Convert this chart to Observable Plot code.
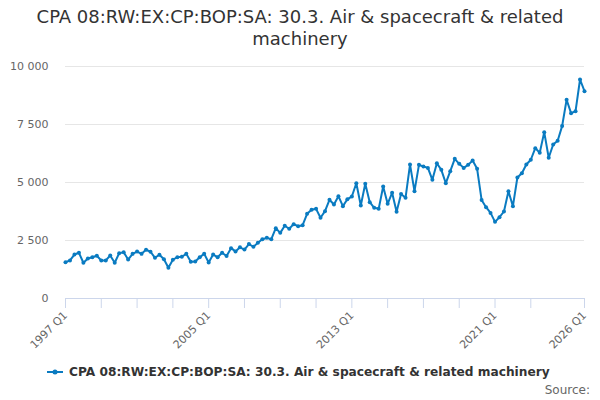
<!DOCTYPE html>
<html><head><meta charset="utf-8">
<script src="https://cdn.jsdelivr.net/npm/d3@7"></script>
<script src="https://cdn.jsdelivr.net/npm/@observablehq/plot@0.6"></script>
<style>
body{margin:0;width:600px;height:400px;position:relative;font-family:"DejaVu Sans",sans-serif;background:#fff;overflow:hidden}
#title{position:absolute;top:6px;left:0;width:600px;text-align:center;font-size:18px;line-height:22px;color:#333}
#chart{position:absolute;top:56px;left:0}
#legend{position:absolute;top:365px;left:47px;font-size:12.2px;font-weight:bold;color:#333;display:flex;align-items:center;white-space:nowrap}
#legend svg{margin-right:6px}
#source{position:absolute;top:383px;right:10px;font-size:12px;color:#666}
</style></head>
<body>
<div id="title">CPA 08:RW:EX:CP:BOP:SA: 30.3. Air &amp; spacecraft &amp; related<br>machinery</div>
<div id="chart"></div>
<div id="legend"><svg width="16" height="10"><line x1="0" y1="5" x2="16" y2="5" stroke="#0a7bc1" stroke-width="2"/><circle cx="8" cy="5" r="2.5" fill="#0a7bc1"/></svg><span>CPA 08:RW:EX:CP:BOP:SA: 30.3. Air &amp; spacecraft &amp; related machinery</span></div>
<div id="source">Source:</div>
<script>
const startYear = 1997;
const values = [
1565,1640,1895,1970, 1540,1725,1780,1840, 1640,1640,1855,1540, 1955,1995,1680,1925,
2025,1925,2100,2015, 1755,1885,1695,1325, 1670,1780,1800,1925, 1580,1595,1780,1925,
1550,1895,1780,1970, 1830,2170,2030,2205, 2110,2345,2230,2400, 2555,2615,2555,3030,
2830,3135,3005,3205, 3115,3160,3650,3825, 3865,3480,3765,4255, 4050,4410,3980,4280,
4395,4970,4010,4945, 4150,3910,3865,4830, 4080,4555,3735,4500, 4340,5775,4625,5760,
5690,5630,5115,5830, 5545,4970,5490,6020, 5805,5630,5760,5950, 5590,4250,3935,3690,
3305,3505,3750,4625, 3980,5215,5400,5775, 5980,6480,6280,7170, 6065,6640,6800,7430,
8565,7990,8075,9440, 8935
];
const categories = values.map((_, i) => `${startYear + Math.floor(i / 4)} Q${(i % 4) + 1}`);
const tickLabels = ["1997 Q1", "2005 Q1", "2013 Q1", "2021 Q1", "2026 Q1"];
const tickMarks = ["1997 Q1","1999 Q1","2001 Q1","2003 Q1","2005 Q1","2007 Q1","2009 Q1","2011 Q1","2013 Q1","2015 Q1","2017 Q1","2019 Q1","2021 Q1","2023 Q1","2026 Q1"];
const yTicks = [0, 2500, 5000, 7500, 10000];
const seriesName = "CPA 08:RW:EX:CP:BOP:SA: 30.3. Air & spacecraft & related machinery";

const data = categories.map((q, i) => ({q, v: values[i]}));
const color = "#0a7bc1";
const fmt = d => d3.format(",")(d).replace(/,/g, " ");

const chart = Plot.plot({
  width: 600, height: 300,
  marginLeft: 65, marginRight: 16, marginTop: 10, marginBottom: 58,
  style: {fontFamily: "DejaVu Sans, sans-serif", fontSize: "11px", color: "#666", background: "white", overflow: "visible"},
  x: {type: "point", domain: categories, padding: 0},
  y: {domain: [0, 10000]},
  marks: [
    Plot.gridY(yTicks.slice(1), {stroke: "#e6e6e6", strokeOpacity: 1}),
    Plot.axisY(yTicks, {tickSize: 0, tickPadding: 17, tickFormat: fmt, label: null, fill: "#666"}),
    Plot.axisX(tickMarks, {tickSize: 10, tickFormat: () => "", stroke: "#ccd6eb", strokeOpacity: 1, label: null}),
    Plot.axisX(tickLabels, {tickSize: 0, tickPadding: 15, tickRotate: -45, label: null, fill: "#666"}),
    Plot.ruleY([0], {stroke: "#ccd6eb"}),
    Plot.line(data, {x: "q", y: "v", stroke: color, strokeWidth: 2}),
    Plot.dot(data, {x: "q", y: "v", r: 2, fill: color})
  ]
});
document.getElementById("chart").appendChild(chart);
</script>
</body></html>
